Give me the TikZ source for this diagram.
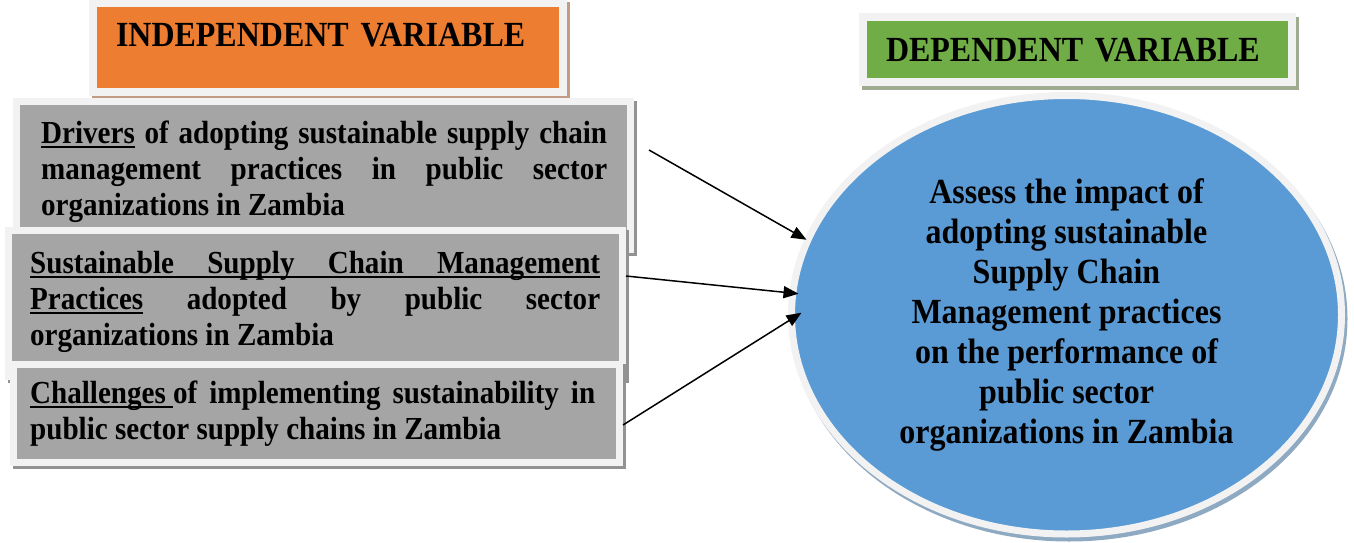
\documentclass[tikz,border=0pt]{standalone}
\usepackage{fontspec}
\setmainfont{Liberation Serif}[FakeStretch=0.906]
\usetikzlibrary{shapes.geometric,shadows,arrows.meta}

% underlined word, and a whole underlined justified line
\newcommand{\uword}[1]{\setbox0\hbox{#1}\rlap{\rule[-4.5pt]{\wd0}{2pt}}\box0\relax}
\newcommand{\uline}[1]{\rlap{\rule[-4.5pt]{\linewidth}{2pt}}\makebox[\linewidth][s]{#1}}

\definecolor{ivorange}{HTML}{ED7D31}
\definecolor{dvgreen}{HTML}{70AD47}
\definecolor{dvblue}{HTML}{5B9BD5}
\definecolor{boxgray}{HTML}{A5A5A5}
\definecolor{rim}{HTML}{F2F2F2}
\definecolor{tanshadow}{HTML}{C29B84}
\definecolor{greenshadow}{HTML}{9EAB8F}
\definecolor{grayshadow}{HTML}{929292}
\definecolor{blueshadow}{HTML}{8EA9C2}

\begin{document}
\begin{tikzpicture}[x=1pt, y=1pt]
	\tikzset{>={Triangle[length=15pt, width=12pt]},
		heading/.style={draw=rim, line width=8pt, inner sep=0pt, align=left,
			font=\bfseries\fontsize{35.3}{40}\selectfont},
		factor/.style={draw=rim, line width=7pt, fill=boxgray, inner sep=0pt,
			general shadow={fill=grayshadow, draw=grayshadow, shadow xshift=3pt, shadow yshift=-3pt}},
		factortext/.style={anchor=base west, inner sep=0pt, align=justify,
			font=\bfseries\fontsize{32.1}{36}\selectfont},
		link/.style={->, line width=1.5pt}}
	\useasboundingbox (0,0) rectangle (1354,542);

	% headings
	\node[heading, fill=ivorange, minimum width=470pt, minimum height=89pt,
		text width=424pt, text height=23.4pt, text depth=25.4pt,
		general shadow={fill=tanshadow, draw=tanshadow, shadow xshift=3pt, shadow yshift=-3pt}]
		(iv) at (328,494) {INDEPENDENT VARIABLE};
	\node[heading, fill=dvgreen, minimum width=429pt, minimum height=65.5pt,
		text width=383pt, text height=23.4pt, text depth=0pt,
		general shadow={fill=greenshadow, draw=greenshadow, shadow xshift=3pt, shadow yshift=-4pt}]
		(dv) at (1077.5,492.25) {DEPENDENT VARIABLE};

	% independent variables
	\node[factor, minimum width=614pt, minimum height=148pt] (drivers) at (323.5,366.5) {};
	\node[factortext, text width=566pt] (driverstext) at (41,398.5)
		{\uword{Drivers} of adopting sustainable supply chain\linebreak
		management practices in public sector\linebreak
		organizations in Zambia};

	\node[factor, minimum width=614pt, minimum height=146pt] (practices) at (315.5,238.5) {};
	\node[factortext, text width=570pt] (practicestext) at (30,268.5)
		{\uline{Sustainable Supply Chain Management}\linebreak
		\uword{Practices} adopted by public sector\linebreak
		organizations in Zambia};

	\node[factor, minimum width=606pt, minimum height=98pt] (challenges) at (316.5,128.5) {};
	\node[factortext, text width=565pt] (challengestext) at (30,138.5)
		{\uword{Challenges\ }of implementing sustainability in\linebreak
		public sector supply chains in Zambia};

	% dependent variable
	\node[ellipse, draw=rim, line width=7pt, fill=dvblue, inner sep=0pt,
		minimum width=550pt, minimum height=438.5pt, align=center,
		font=\bfseries\fontsize{35.3}{40}\selectfont,
		general shadow={fill=blueshadow, draw=blueshadow, shadow xshift=2.5pt, shadow yshift=-4pt}]
		(impact) at (1066.5,227.25)
		{Assess the impact of\\ adopting sustainable\\ Supply Chain\\ Management practices\\
		on the performance of\\ public sector\\ organizations in Zambia};

	% links
	\coordinate (drivers-out) at (649,392);
	\draw[link] (drivers-out) -- ([shift={(-260,75)}]impact.center);
	\draw[link] ([yshift=27.5pt]practices.east) -- ([shift={(-268,21)}]impact.center);
	\draw[link] ([yshift=-11.5pt]challenges.east) -- ([shift={(-265,2)}]impact.center);
\end{tikzpicture}
\end{document}
